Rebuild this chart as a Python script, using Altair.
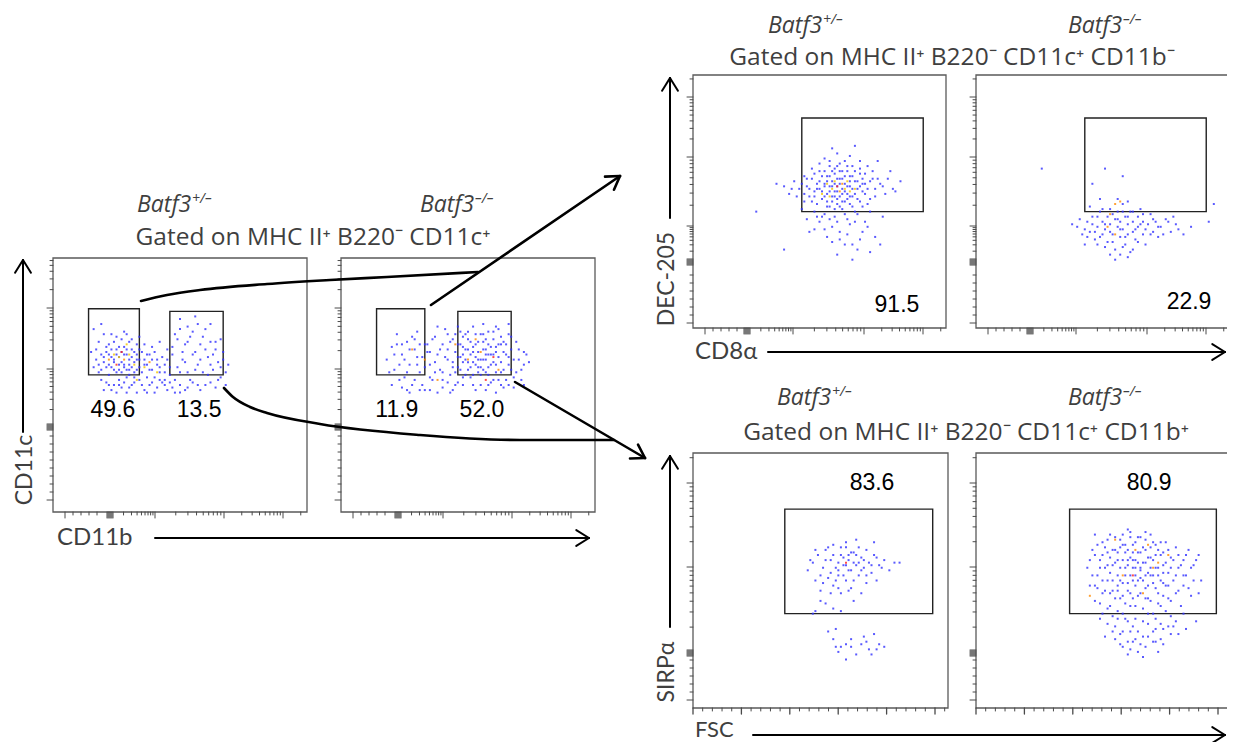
import math
import altair as alt
import pandas as pd

# ---------------------------------------------------------------------------
# DATA  (event coordinates in panel units: % of axis range, x from left, y from bottom)
# ---------------------------------------------------------------------------
A1_BLUE = [(22,62),(24,60),(25,64),(26,61),(27,63),(28,65),(29,62),(30,60),(31,64),(26,58),(23,57),(25,55),
           (28,57),(30,56),(32,59),(33,62),(21,65),(24,67),(27,68),(30,67),(33,66),(35,63),(36,60),(34,57),
           (20,59),(19,62),(22,54),(26,52),(29,53),(32,53),(35,55),(37,58),(38,62),(39,56),(40,53),(41,60),
           (42,57),(44,55),(43,51),(38,50),(35,50),(31,50),(27,49),(24,50),(21,51),(18,55),(17,60),(18,67),
           (16,72),(19,74),(23,70),(29,70),(34,69),(36,66),(45,60),(47,62),(46,57),(48,52),(50,55),(52,59),
           (51,63),(53,67),(49,68),(55,62),(56,56),(54,52),(57,50),(58,60),(60,64),(59,69),(62,58),(61,54),
           (63,62),(64,67),(66,57),(65,52),(67,60),(68,55),(55,71),(50,72),(57,74),(45,48),(40,47),(33,47),
           (52,48),(48,47),(25,47),(20,48),(60,50),
           (18,58),(19,56),(20,61),(21,57),(21,63),(22,58),(23,61),(23,64),(24,56),(24,59),(25,62),(26,56),
           (26,65),(27,59),(27,55),(28,62),(28,58),(29,56),(29,64),(30,58),(30,54),(31,61),(31,57),(32,55),
           (32,63),(33,60),(33,56),(34,60),(34,64),(22,66),(25,69),(28,71),(31,68),(20,70),(17,64),(16,57),
           (15,63),(19,52),(22,50),(23,48),(26,50),(28,51),(30,49),(32,51),(34,52),(36,48),(37,53),(39,51),
           (41,49),(42,52),(44,50),(46,51),(47,49),(50,50),(53,49),(55,51),(58,48),(62,51),(64,49),(66,53),
           (29,47),(37,47),(50,47),(36,58),(37,62),(38,56),(39,60),(40,63),(41,58),(42,55),(43,61),(44,58),
           (45,64),(39,65),(42,67),(44,52),(46,54),(47,65),(48,70),(49,57),(51,60),(52,66),(53,55),(54,69),
           (56,63),(57,58),(58,66),(59,55),(60,72),(61,61),(62,67),(63,56),(64,64),(65,59),(66,68),(67,63),
           (68,50),(69,58),(50,76),(56,77),(62,74),(53,73)]
A1_WARM = [(26,61,"y"),(27,63,"r"),(28,60,"o"),(24,62,"y"),(30,62,"y"),(32,58,"y"),(36,57,"y"),(22,60,"o"),
           (29,66,"y"),(41,55,"y"),(25,58,"r"),(33,52,"y"),(38,59,"o")]

A2_BLUE = [(18,60),(20,65),(21,56),(22,70),(24,62),(25,53),(26,67),(27,58),(28,50),(29,64),(30,71),(31,55),
           (32,61),(33,48),(34,66),(35,58),(36,52),(37,69),(38,62),(39,56),(40,49),(40,66),(41,72),(42,60),
           (43,54),(44,68),(45,63),(45,50),(46,57),(47,71),(48,65),(48,53),(49,60),(50,68),(50,56),(51,62),
           (52,73),(52,50),(53,66),(53,58),(54,63),(55,70),(55,54),(56,60),(56,67),(57,64),(57,48),(58,57),
           (58,71),(59,62),(60,52),(60,68),(61,65),(61,58),(62,61),(62,72),(63,55),(64,67),(64,49),(65,62),
           (66,58),(66,70),(67,64),(68,53),(69,67),(70,60),(71,56),(72,63),(74,59),(50,64),(47,61),(54,60),
           (56,64),(58,66),(52,59),(46,66),(44,59),(42,64),(49,70),(57,55),(59,58),(60,62),(63,66),(55,57),
           (51,53),(45,55),(38,73),(35,63),(30,58),(23,52),(27,47),(61,47),(66,50),(43,47),
           (19,55),(20,50),(21,62),(22,66),(23,58),(24,49),(25,60),(26,55),(27,64),(28,69),(29,52),(30,61),
           (31,66),(32,50),(33,57),(34,63),(35,53),(36,68),(37,59),(38,47),(39,64),(40,55),(41,61),(42,51),
           (43,67),(44,57),(45,70),(46,61),(46,51),(47,56),(47,66),(48,59),(48,69),(49,54),(49,64),(50,59),
           (50,71),(51,57),(51,67),(52,54),(52,63),(53,61),(53,70),(54,57),(54,67),(55,60),(55,50),(56,70),
           (56,56),(57,62),(57,68),(58,54),(58,62),(59,65),(59,51),(60,59),(60,71),(61,55),(61,63),(62,52),
           (62,66),(63,59),(63,69),(64,56),(64,63),(65,66),(65,52),(66,61),(67,56),(67,69),(68,60),(69,55),
           (70,64),(71,52),(72,58),(73,62),(26,48),(31,48),(35,48),(40,52),(44,48),(48,50),(53,48),(58,50),
           (63,50),(68,49),(72,50),(37,55),(33,66),(29,68),(24,66),(42,70),(46,73),(56,74),(61,73),(66,74),
           (48,62),(52,65),(57,60),(54,55)]
A2_WARM = [(50,60,"o"),(55,63,"o"),(60,61,"r"),(45,66,"o"),(33,60,"o"),(62,56,"o"),(38,52,"o"),(57,52,"r"),
           (28,64,"o"),(53,68,"o")]

B1_BLUE = [(50,55),(52,57),(53,53),(54,56),(55,58),(56,54),(57,56),(58,59),(59,55),(60,57),(55,52),(57,51),
           (61,53),(62,56),(53,60),(56,61),(59,62),(62,60),(64,58),(65,55),(63,52),(60,50),(51,51),(49,57),
           (48,54),(47,59),(50,62),(54,64),(58,65),(61,64),(66,61),(67,57),(68,53),(66,50),(63,48),(58,48),
           (54,48),(49,49),(46,52),(45,56),(44,60),(47,63),(52,67),(57,69),(62,68),(69,64),(71,59),(72,55),
           (70,51),(74,57),(76,53),(78,62),(73,66),(64,72),(55,71),(42,55),(40,58),(38,53),(36,56),(44,50),
           (43,47),(48,46),(52,45),(56,44),(60,45),(65,45),(70,46),(50,42),(55,40),(58,38),(62,41),(67,38),
           (72,36),(53,36),(48,39),(45,43),(60,33),(65,31),(70,30),(57,29),(63,27),(74,33),(33,57),(25,46),
           (36,31),(80,54),(82,58),(68,42),(75,44),(46,38),
           (48,52),(49,55),(50,58),(51,54),(51,60),(52,52),(52,56),(53,58),(53,50),(54,54),(54,60),(55,56),
           (55,62),(55,50),(56,52),(56,57),(56,63),(57,54),(57,59),(57,49),(58,52),(58,57),(58,62),(59,53),
           (59,59),(59,50),(60,54),(60,60),(61,56),(61,51),(61,62),(62,58),(62,52),(63,55),(63,60),(64,53),
           (64,62),(65,58),(65,51),(66,56),(66,63),(67,54),(67,59),(68,57),(68,61),(69,55),(70,58),(71,62),
           (72,52),(73,59),(75,56),(77,59),(79,55),(46,55),(45,59),(47,50),(44,53),(43,57),(41,52),(39,55),
           (52,62),(54,66),(57,64),(60,66),(63,64),(66,66),(50,65),(48,61),(53,48),(56,47),(59,47),(62,49),
           (64,46),(67,48),(69,49),(51,44),(54,43),(57,42),(61,43),(64,42),(58,35),(61,37),(55,34),(63,33),
           (66,35),(69,40),(52,39),(49,44)]
B1_WARM = [(55,55,"y"),(57,56,"r"),(53,57,"y"),(60,55,"y"),(58,54,"o"),(62,54,"y"),(51,53,"y"),(56,58,"y"),
           (64,55,"y"),(59,57,"o"),(54,52,"y"),(61,58,"y")]

B2_BLUE = [(40,40),(42,37),(44,42),(45,38),(46,44),(47,35),(48,40),(49,46),(50,37),(50,42),(51,39),(52,44),
           (52,34),(53,47),(53,41),(54,37),(55,43),(55,31),(56,40),(56,46),(57,36),(57,42),(58,49),(58,39),
           (59,44),(59,33),(60,41),(60,37),(61,46),(61,30),(62,42),(62,38),(63,35),(64,44),(64,40),(65,47),
           (66,37),(66,42),(67,33),(68,41),(69,45),(70,38),(71,42),(72,36),(73,40),(75,43),(77,38),(79,41),
           (82,37),(85,40),(45,48),(49,51),(56,51),(60,50),(55,27),(57,29),(51,32),(62,31),(26,63),(51,63),
           (58,60),(46,57),(94,49),(92,42),(38,41),(43,33),
           (41,43),(43,39),(44,36),(46,41),(47,38),(48,44),(49,36),(50,47),(51,41),(53,38),(54,45),(54,34),
           (56,43),(57,39),(58,46),(59,36),(60,44),(62,46),(63,39),(65,41),(66,45),(67,39),(69,37),(70,43),
           (72,40),(74,37),(76,42),(78,44),(80,39),(58,32),(53,29),(60,28),(64,34),(48,33)]
B2_WARM = [(55,49,"o"),(57,50,"o"),(53,45,"o"),(52,40,"o"),(55,37,"o")]

C1_BLUE = [(45,54),(47,57),(48,50),(49,60),(50,46),(51,55),(52,62),(53,51),(54,58),(55,48),(55,64),(56,55),
           (57,52),(58,60),(58,45),(59,56),(60,63),(60,50),(61,58),(62,54),(62,47),(63,61),(64,56),(64,66),
           (65,52),(66,59),(66,45),(67,55),(68,62),(68,49),(69,57),(70,53),(71,60),(71,65),(72,50),(73,56),
           (75,58),(77,54),(79,57),(81,57),(52,41),(55,39),(48,38),(47,37),(58,38),(63,42),(57,54),(61,60),
           (65,57),(60,56),(53,30),(55,27),(57,22),(58,24),(60,25),(62,24),(64,21),(66,25),(67,28),(69,23),
           (71,29),(73,25),(75,24),(60,19),(70,21),(56,31),
           (46,58),(48,62),(50,52),(51,49),(52,58),(53,63),(54,53),(55,60),(56,50),(57,57),(58,63),(59,52),
           (59,59),(60,65),(61,54),(62,61),(63,50),(63,57),(64,60),(65,63),(66,54),(67,58),(68,52),(70,56),
           (72,59),(74,55),(54,45),(57,47),(61,46),(50,42),(56,24),(62,27),(68,26),(72,23)]
C1_WARM = [(60,57,"r")]

C2_BLUE = [(44,55),(45,48),(46,62),(47,42),(47,68),(48,52),(49,58),(49,35),(50,45),(50,65),(51,55),(51,28),
           (52,50),(52,61),(53,40),(53,68),(54,56),(54,46),(55,32),(55,62),(56,52),(56,58),(57,43),(57,66),
           (58,49),(58,37),(58,24),(59,55),(59,61),(60,46),(60,70),(61,52),(61,40),(61,30),(62,58),(62,64),
           (63,48),(63,55),(63,35),(64,44),(64,61),(64,22),(65,51),(65,67),(66,57),(66,39),(66,28),(67,47),
           (67,62),(68,53),(68,43),(68,33),(69,59),(69,68),(70,49),(70,37),(71,55),(71,64),(71,26),(72,45),
           (72,52),(73,60),(73,40),(74,56),(74,31),(75,48),(75,65),(76,53),(76,43),(77,59),(77,36),(78,50),
           (79,63),(79,45),(80,55),(80,29),(81,40),(82,58),(82,48),(83,52),(84,62),(85,44),(86,56),(87,34),
           (88,60),(89,50),(54,36),(57,29),(60,26),(63,27),(67,24),(70,30),(73,27),(76,32),(72,22),(62,32),
           (59,35),(56,38),(58,64),(61,67),(67,66),(65,55),(62,50),(69,52),(60,58),(56,48),(74,49),
           (45,58),(46,52),(47,60),(48,47),(48,64),(49,55),(49,41),(50,60),(50,50),(51,63),(51,46),(52,56),
           (52,39),(52,66),(53,53),(53,59),(53,45),(54,62),(54,50),(54,30),(55,57),(55,43),(55,67),(56,61),
           (56,46),(56,35),(57,55),(57,50),(57,63),(58,58),(58,44),(58,68),(59,52),(59,41),(59,64),(60,56),
           (60,49),(60,62),(60,34),(61,59),(61,45),(61,69),(62,55),(62,61),(62,43),(62,26),(63,52),(63,58),
           (63,65),(63,40),(64,57),(64,50),(64,67),(64,30),(65,54),(65,61),(65,45),(66,50),(66,63),(66,34),
           (67,57),(67,52),(67,43),(67,69),(68,59),(68,48),(68,37),(69,55),(69,63),(69,42),(70,58),(70,52),
           (70,65),(70,26),(71,47),(71,60),(71,35),(72,55),(72,62),(72,41),(73,50),(73,65),(73,33),(74,53),
           (74,61),(74,44),(75,57),(75,38),(76,62),(76,48),(77,55),(77,42),(78,58),(78,32),(79,52),(80,60),
           (80,46),(81,56),(82,52),(82,37),(83,60),(84,47),(85,55),(86,50),(87,58),(88,45),(52,33),(55,27),
           (58,30),(61,23),(65,25),(68,28),(71,31),(74,25),(77,29),(79,34),(83,31),(50,37),(47,48),(66,20),
           (60,21),(57,25)]
C2_WARM = [(63,62,"o"),(68,64,"o"),(58,52,"o"),(72,57,"o"),(66,45,"o"),(62,52,"r"),(45,44,"o"),(55,66,"o"),
           (76,60,"o"),(70,55,"o")]

# gates: (x1, y1, x2, y2) in panel %
GATES_A1 = [(14, 54, 34, 80), (46, 54, 67, 79)]
GATES_A2 = [(14, 54, 33, 80), (46, 54, 67, 79)]
GATES_B1 = [(43, 46, 91, 83)]
GATES_B2 = [(43, 46, 91, 83)]
GATES_C1 = [(36, 37, 94, 78)]
GATES_C2 = [(37, 37, 95, 78)]

# gate frequencies (label, x %, y %)
PCT_A1 = [("49.6", 23.6, 40.2), ("13.5", 57.5, 40.2)]
PCT_A2 = [("11.9", 22.0, 40.2), ("52.0", 55.5, 40.2)]
PCT_B1 = [("91.5", 80.6, 9.1)]
PCT_B2 = [("22.9", 84.2, 10.3)]
PCT_C1 = [("83.6", 70.2, 88.2)]
PCT_C2 = [("80.9", 68.4, 88.2)]

GENOTYPES = ["Batf3", "Batf3", "Batf3", "Batf3", "Batf3", "Batf3"]
GENO_SUP = ["+/\u2013", "\u2013/\u2013", "+/\u2013", "\u2013/\u2013", "+/\u2013", "\u2013/\u2013"]
GATING = ["Gated on MHC II\u207a B220\u207b CD11c\u207a",
          "Gated on MHC II\u207a B220\u207b CD11c\u207a CD11b\u207b",
          "Gated on MHC II\u207a B220\u207b CD11c\u207a CD11b\u207a"]
X_LABELS = ["CD11b", "CD8\u03b1", "FSC"]
Y_LABELS = ["CD11c", "DEC-205", "SIRP\u03b1"]

# ---------------------------------------------------------------------------
# LAYOUT (image pixels) and styles
# ---------------------------------------------------------------------------
PANELS = {  # left, top, width, height
    "A1": (53, 258, 254, 254), "A2": (341, 258, 254, 254),
    "B1": (693, 75, 253, 253), "B2": (976, 75, 253, 253),
    "C1": (693, 453, 255, 255), "C2": (976, 453, 253, 255),
}
PANEL_DATA = {
    "A1": (A1_BLUE, A1_WARM, GATES_A1, PCT_A1), "A2": (A2_BLUE, A2_WARM, GATES_A2, PCT_A2),
    "B1": (B1_BLUE, B1_WARM, GATES_B1, PCT_B1), "B2": (B2_BLUE, B2_WARM, GATES_B2, PCT_B2),
    "C1": (C1_BLUE, C1_WARM, GATES_C1, PCT_C1), "C2": (C2_BLUE, C2_WARM, GATES_C2, PCT_C2),
}
# tick layouts in pixels from the axis origin: (negative major, [zero, decade positions...])
AXIS_TICKS = {
    "A_y": (12, [85, 143, 204]), "A_x": (12, [57, 102, 171, 230]),
    "B_y": (5, [66, 102, 171, 231]), "B_x": (12, [54, 100, 171, 230]),
    "C_y": (8, [55, 141, 225]),
}
FSC_MAJOR_STEP = 48.4
WARM = {"y": "#f2c500", "o": "#ff8a00", "r": "#ff2020"}
BLUE = "#3030ff"
TEXT_GREY = "#3f3f3f"
W, H = 1219, 734


def to_img(p, px, py):
    x0, y0, w, h = PANELS[p]
    return x0 + px / 100 * w, y0 + h - py / 100 * h


# ---------------------------------------------------------------------------
# build tables
# ---------------------------------------------------------------------------
pts, rects, nums = [], [], []
for p, (blue, warm, gates, pcts) in PANEL_DATA.items():
    x0, y0, w, h = PANELS[p]
    rects.append(dict(x=x0, y=y0, x2=x0 + w, y2=y0 + h, c="#5a5a5a", w=1.3))
    for bx, by in blue:
        X, Y = to_img(p, bx, by)
        pts.append(dict(x=X, y=Y, c=BLUE, o=0))
    for bx, by, col in warm:
        X, Y = to_img(p, bx, by)
        pts.append(dict(x=X, y=Y, c=WARM[col], o=1))
    for gx1, gy1, gx2, gy2 in gates:
        X1, Y1 = to_img(p, gx1, gy1)
        X2, Y2 = to_img(p, gx2, gy2)
        rects.append(dict(x=X1, y=Y2, x2=X2, y2=Y1, c="#222222", w=1.4))
    for t, lx, ly in pcts:
        X, Y = to_img(p, lx, ly)
        nums.append(dict(x=X, y=Y, t=t))

df_pts = pd.DataFrame(pts)
df_rects = pd.DataFrame(rects)
df_nums = pd.DataFrame(nums)


def log_positions(neg, decades, extent):
    out = [(neg, 6)]
    zero = decades[0]
    p = neg + 8
    while p < zero - 5:
        out.append((p, 3))
        p += 8
    for d in (-3, -2, -1, 0, 1, 2, 3):
        out.append((zero + d, 6))
    for i in range(len(decades) - 1):
        a, b = decades[i], decades[i + 1]
        out.append((b, 6))
        for k in range(2, 10):
            out.append((a + (b - a) * math.log10(k), 3))
    gap = decades[-1] - decades[-2]
    for k in range(2, 11):
        q = decades[-1] + gap * math.log10(k)
        if q <= extent:
            out.append((q, 6 if k == 10 else 3))
    return out


ticks = []
for p in PANELS:
    x0, y0, w, h = PANELS[p]
    grp = p[0]
    for pos, ln in log_positions(*AXIS_TICKS[grp + "_y"], h):
        ticks.append(dict(x=x0 - ln, x2=x0, y=y0 + h - pos, y2=y0 + h - pos, c="#4a4a4a", w=1))
    if grp == "C":
        k = 0
        while k * FSC_MAJOR_STEP / 5 <= w:
            pos = k * FSC_MAJOR_STEP / 5
            ln = 6 if k % 5 == 0 else 3
            ticks.append(dict(x=x0 + pos, x2=x0 + pos, y=y0 + h, y2=y0 + h + ln, c="#4a4a4a",
                              w=1.3 if ln == 6 else 1))
            k += 1
    else:
        for pos, ln in log_positions(*AXIS_TICKS[grp + "_x"], w):
            ticks.append(dict(x=x0 + pos, x2=x0 + pos, y=y0 + h, y2=y0 + h + ln, c="#4a4a4a", w=1))
df_ticks = pd.DataFrame(ticks)

# annotation arrows (image pixels): start -> tip
ARROWS = [
    ((431, 305), (620, 176), 2.6), ((515, 382), (645, 458), 2.6),
    ((23, 432), (23, 260), 2.0), ((155, 538), (589, 538), 2.0),
    ((670, 218), (670, 78), 2.0), ((768, 352), (1225, 352), 2.0),
    ((670, 627), (670, 456), 2.0), ((753, 735), (1225, 735), 2.0),
]
CURVES = [
    [(141, 301), (167, 295), (200, 290), (267, 284), (330, 280), (387, 277), (478, 272)],
    [(224, 388), (233, 397), (250, 407), (267, 413), (320, 424), (420, 435), (520, 440), (614, 440)],
]
segs = []
for (sx, sy), (tx, ty), sw in ARROWS:
    segs.append(dict(x=sx, y=sy, x2=tx, y2=ty, c="black", w=sw))
    L = math.hypot(tx - sx, ty - sy)
    ux, uy = (tx - sx) / L, (ty - sy) / L
    for ang in (32, -32):
        a = math.radians(ang)
        rx = ux * math.cos(a) - uy * math.sin(a)
        ry = ux * math.sin(a) + uy * math.cos(a)
        segs.append(dict(x=tx, y=ty, x2=tx - 15 * rx, y2=ty - 15 * ry, c="black", w=sw))
df_segs = pd.concat([pd.DataFrame(segs), df_ticks], ignore_index=True)

curve_rows = []
for i, cv in enumerate(CURVES):
    for j, (cx, cy) in enumerate(cv):
        curve_rows.append(dict(x=cx, y=cy, id=i, k=j))
df_curves = pd.DataFrame(curve_rows)

# text placement (image pixels)
geno_pos = [(137, 212), (420, 212), (768, 33), (1068, 33), (777, 405), (1068, 405)]
geno_w = 55
df_geno = pd.DataFrame([dict(x=x, y=y, t=t) for (x, y), t in zip(geno_pos, GENOTYPES)])
df_sup = pd.DataFrame([dict(x=x + geno_w, y=y - 9, t=t) for (x, y), t in zip(geno_pos, GENO_SUP)])
df_gate_txt = pd.DataFrame([dict(x=x, y=y, t=t) for (x, y), t in zip([(313, 245), (952, 65), (966, 440)], GATING)])
df_xlab = pd.DataFrame([dict(x=x, y=y, t=t) for (x, y), t in zip([(57, 538), (695, 352)], X_LABELS[:2])])
df_xlab_low = pd.DataFrame([dict(x=695, y=737, t=X_LABELS[2])])
df_ylab = pd.DataFrame([dict(x=x, y=y, t=t) for (x, y), t in zip([(25, 470), (667, 279), (667, 672)], Y_LABELS)])

# ---------------------------------------------------------------------------
# chart
# ---------------------------------------------------------------------------
xs = alt.Scale(domain=[8, 8 + W], nice=False, zero=False)
ys = alt.Scale(domain=[8, 8 + H], nice=False, zero=False, reverse=True)
X = alt.X("x:Q", scale=xs, axis=None)
Y = alt.Y("y:Q", scale=ys, axis=None)

points = alt.Chart(df_pts).mark_square(size=4, opacity=0.8).encode(
    x=X, y=Y, color=alt.Color("c:N", scale=None), order=alt.Order("o:Q"))
boxes = alt.Chart(df_rects).mark_rect(fillOpacity=0).encode(
    x=X, y=Y, x2="x2:Q", y2="y2:Q",
    stroke=alt.Stroke("c:N", scale=None), strokeWidth=alt.StrokeWidth("w:Q", scale=None))
rules = alt.Chart(df_segs).mark_rule(strokeCap="round").encode(
    x=X, y=Y, x2="x2:Q", y2="y2:Q",
    color=alt.Color("c:N", scale=None), strokeWidth=alt.StrokeWidth("w:Q", scale=None))
curves = alt.Chart(df_curves).mark_line(interpolate="monotone", color="black", strokeWidth=2.6,
                                       strokeCap="round").encode(x=X, y=Y, detail="id:N", order="k:Q")
numbers = alt.Chart(df_nums).mark_text(font="Liberation Sans", fontSize=23, color="black",
                                       baseline="middle", align="center").encode(x=X, y=Y, text="t:N")
geno = alt.Chart(df_geno).mark_text(font="Open Sans", fontSize=23, fontStyle="italic", color=TEXT_GREY,
                                    align="left", baseline="alphabetic").encode(x=X, y=Y, text="t:N")
sup = alt.Chart(df_sup).mark_text(font="Open Sans", fontSize=14, fontStyle="italic", color=TEXT_GREY,
                                  align="left", baseline="alphabetic").encode(x=X, y=Y, text="t:N")
gate_txt = alt.Chart(df_gate_txt).mark_text(font="Open Sans", fontSize=24.5, color=TEXT_GREY,
                                            align="center", baseline="alphabetic").encode(x=X, y=Y, text="t:N")
xlab = alt.Chart(df_xlab).mark_text(font="Lato", fontSize=24, color=TEXT_GREY,
                                    align="left", baseline="middle").encode(x=X, y=Y, text="t:N")
xlab_low = alt.Chart(df_xlab_low).mark_text(font="Lato", fontSize=22, color=TEXT_GREY,
                                            align="left", baseline="alphabetic").encode(x=X, y=Y, text="t:N")
ylab = alt.Chart(df_ylab).mark_text(font="Lato", fontSize=23, color=TEXT_GREY, angle=270,
                                    align="center", baseline="middle").encode(x=X, y=Y, text="t:N")

chart = alt.layer(boxes, points, rules, curves, numbers, geno, sup, gate_txt, xlab, xlab_low, ylab).properties(
    width=W, height=H, padding=0, autosize=alt.AutoSizeParams(type="none")
).configure_view(strokeWidth=0)

chart.save("out.html", embed_options={"renderer": "svg", "actions": False})
